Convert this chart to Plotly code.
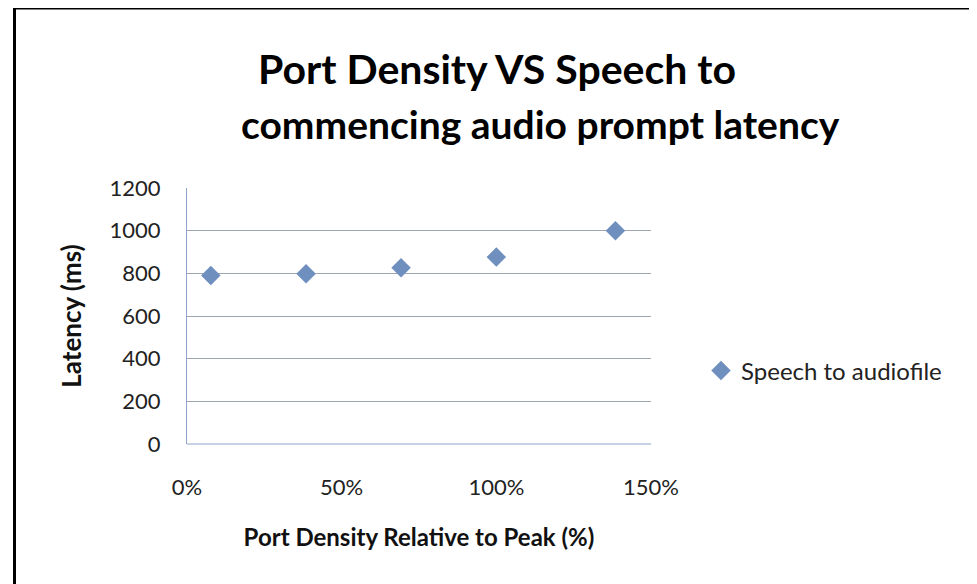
import plotly.graph_objects as go

# Data
port_density = [0.077, 0.385, 0.692, 1.0, 1.385]
latency_ms = [790, 798, 826, 876, 1000]
series_name = "Speech to audiofile"
y_ticks = [0, 200, 400, 600, 800, 1000, 1200]
x_ticks = [0, 0.5, 1.0, 1.5]
x_tick_labels = ["0%", "50%", "100%", "150%"]

FONT = "Lato"
OFF = 7  # page offset of the figure in the screenshot
W, H = 977, 584
L, R, T, B = 186 - OFF, 977 - 650 + OFF, 187 - OFF, 584 - 443 + OFF
pw, ph = W - L - R, H - T - B

def px(x):
    return (x - OFF - L) / pw

def py(y):
    return (H - B - (y - OFF)) / ph

fig = go.Figure()
fig.add_trace(go.Scatter(
    x=port_density, y=latency_ms, mode="markers", name=series_name,
    marker=dict(symbol="diamond", size=15, color="#6F8FBF", line=dict(width=0)),
))

fig.update_layout(
    width=W, height=H,
    margin=dict(l=L, r=R, t=T, b=B, autoexpand=False),
    paper_bgcolor="white", plot_bgcolor="white",
    showlegend=True,
    legend=dict(x=px(700), y=py(370), xanchor="left", yanchor="middle",
                font=dict(family=FONT, size=24, color="#222222"),
                bgcolor="rgba(0,0,0,0)", itemwidth=30),
    xaxis=dict(range=[0, 1.5], tickvals=x_ticks, ticktext=x_tick_labels,
               showgrid=False, zeroline=False, showline=False,
               ticks="", ticklabelstandoff=28,
               tickfont=dict(family=FONT, size=22, color="#222222"),
               title=dict(text="<b>Port Density Relative to Peak (%)</b>",
                          font=dict(family=FONT, size=24, color="#111111"),
                          standoff=30)),
    yaxis=dict(range=[0, 1200], tickvals=y_ticks,
               showgrid=True, gridcolor="#A0A6B0", gridwidth=1,
               zeroline=False, showline=True, linecolor="#8EA4C8", linewidth=1,
               ticks="", ticklabelstandoff=21,
               tickfont=dict(family=FONT, size=22, color="#222222"),
               title=dict(text="<b>Latency (ms)</b>",
                          font=dict(family=FONT, size=26, color="#111111"),
                          standoff=20)),
    annotations=[
        dict(text="<b>Port Density VS Speech to</b>", xref="paper", yref="paper",
             x=px(496), y=py(67), xanchor="center", yanchor="middle",
             showarrow=False, font=dict(family=FONT, size=41, color="#000000")),
        dict(text="<b>commencing audio prompt latency</b>", xref="paper", yref="paper",
             x=px(539), y=py(123), xanchor="center", yanchor="middle",
             showarrow=False, font=dict(family=FONT, size=39, color="#000000")),
    ],
    shapes=[
        dict(type="line", xref="paper", yref="paper", x0=0, x1=1, y0=0, y1=0,
             line=dict(color="#8EA4C8", width=1)),
        dict(type="line", xref="paper", yref="paper", x0=px(13.5), x1=px(13.5),
             y0=py(5.5), y1=py(600), line=dict(color="black", width=3)),
        dict(type="line", xref="paper", yref="paper", x0=px(12), x1=px(990),
             y0=py(7), y1=py(7), line=dict(color="black", width=3)),
    ],
)

fig.write_html("out.html")
